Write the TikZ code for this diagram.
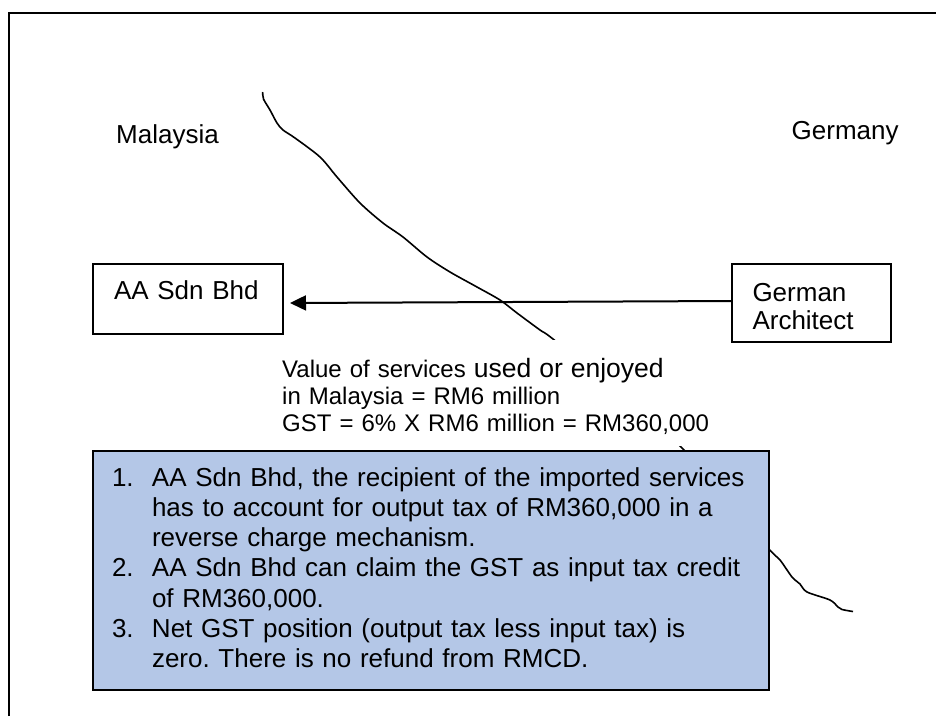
\documentclass[tikz,border=0pt]{standalone}
\usepackage{fontspec}
\setmainfont{Liberation Sans}
\usetikzlibrary{arrows.meta}
\definecolor{notefill}{RGB}{180,199,231}
\tikzset{
  partybox/.style={draw, line width=2pt, anchor=north west, inner xsep=21pt, inner ysep=0pt, align=left, font=\fontsize{26}{28}\selectfont},
  country/.style={anchor=base west, inner sep=0pt, font=\fontsize{26}{28}\selectfont},
  flow/.style={line width=2pt, -{Triangle[length=16pt,width=15pt]}},
  border/.style={line width=2pt},
}
\newcommand\itemno[1]{\makebox[40pt][l]{#1}}
\newcommand\indentno{\hspace*{40pt}}
\frenchspacing

\begin{document}
\begin{tikzpicture}[x=1pt,y=1pt,yscale=-1]
\useasboundingbox (0,0) rectangle (936,716);
%Straight Lines: frame
\draw[border] (8.5,716) -- (8.5,12.5) -- (936,12.5);

% Text Node
\node[country] (my) at (116,143) {Malaysia};
% Text Node
\node[country] (de) at (791.5,139.5) {Germany};

%Curve: border line
\draw[line width=1.6pt] plot[smooth, tension=0.5] coordinates {(262.7,92) (263.5,99) (270,110) (277,123) (283,130) (295,138) (320,157) (337,177) (360,203) (383,223) (403,237) (427,257) (450,272) (477,287) (500,300) (517,313) (540,330) (553,339) (620,393) (682,448) (728,500) (768,548) (780,560) (792,577) (800,584) (807,592) (830,600) (838,607) (842,609.5) (853,611.5)};

% Text Node
\node[partybox, text width=148pt, text height=35pt, text depth=35pt] (aa) at (92,263) {AA Sdn Bhd};
% Text Node
\node[partybox, inner xsep=20.5pt, text width=118pt, text height=37pt, text depth=41pt] (ga) at (731,263) {German\\Architect};

%Straight Lines
\draw[flow] ([yshift=-2pt]ga.west) -- ([xshift=6pt,yshift=4pt]aa.east);

% Text Node
\node[anchor=north west, fill=white, inner xsep=10pt, inner ysep=0pt, text width=430pt, align=left, text height=37pt, text depth=69pt, font=\fontsize{24}{27}\selectfont] (gst) at (272,340) {Value of services {\fontsize{26.5}{27}\selectfont used or enjoyed}\\in Malaysia = RM6 million\\GST = 6\% X RM6 million = RM360,000};

% Text Node
\node[anchor=north west, draw, fill=notefill, line width=2pt, inner xsep=19pt, inner ysep=0pt, text width=638pt, align=left, text height=35pt, text depth=204pt, font=\fontsize{26}{30.3}\selectfont] (notes) at (92,450) {\itemno{1.}AA Sdn Bhd, the recipient of the imported services\\
\indentno has to account for output tax of RM360,000 in a\\
\indentno reverse charge mechanism.\\
\itemno{2.}AA Sdn Bhd can claim the GST as input tax credit\\
\indentno of RM360,000.\\
\itemno{3.}Net GST position (output tax less input tax) is\\
\indentno zero. There is no refund from RMCD.};
\end{tikzpicture}
\end{document}
